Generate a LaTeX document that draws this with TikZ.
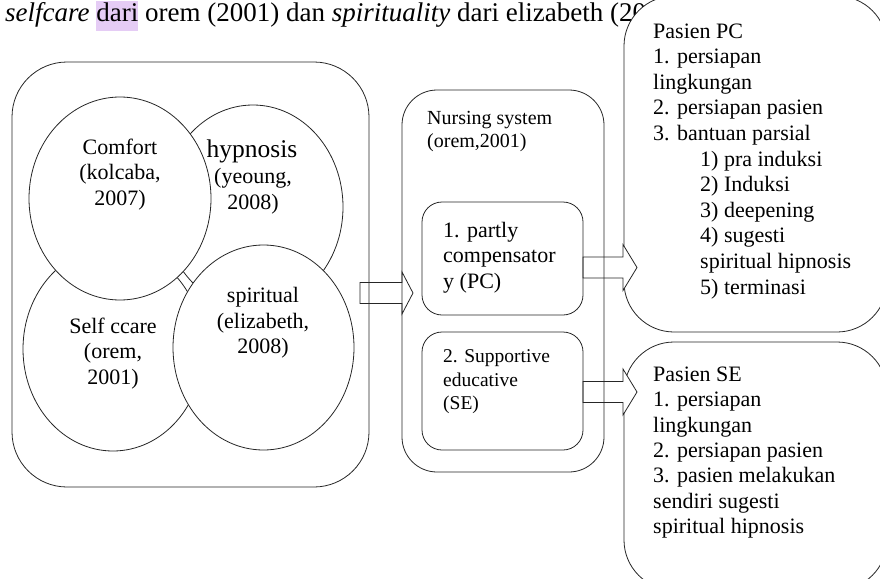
\documentclass[tikz,border=0pt]{standalone}
\usepackage{fontspec}
\setmainfont{Liberation Serif}
\usetikzlibrary{calc,shapes.geometric}

\definecolor{hlpurple}{RGB}{229,204,245}
% highlighted word in the sentence on top
\newcommand{\hlword}[1]{{\setlength{\fboxsep}{0pt}\colorbox{hlpurple}{\strut #1}}}
% hollow block arrow: start, tip, head length, head half height
\newcommand{\blockarrow}[4]{%
	\draw[bigarrow] let \p1=(#1), \p2=(#2) in
	(\x1,\y1+10.5pt) -- (\x2-#3pt,\y1+10.5pt) -- (\x2-#3pt,\y1+#4pt) -- (\x2,\y1)
	-- (\x2-#3pt,\y1-#4pt) -- (\x2-#3pt,\y1-10.5pt) -- (\x1,\y1-10.5pt) -- cycle;}

\begin{document}
\begin{tikzpicture}[x=1pt,y=-1pt,
		thinline/.style={draw=black!85,line width=0.8pt},
		roundbox/.style={thinline,rounded corners=#1,inner sep=0pt},
		bubble/.style={thinline,fill=white,ellipse,inner sep=0pt},
		bigarrow/.style={thinline,fill=white},
		txt/.style={inner sep=0pt,font=\fontsize{22}{25.5}\selectfont},
		smalltxt/.style={inner sep=0pt,font=\fontsize{19.5}{23.5}\selectfont}]
	\useasboundingbox (0,0) rectangle (880,578);
	
	% sentence on top, partly hidden by the first patient box
	\node[anchor=base west,inner sep=0pt,font=\fontsize{27}{30}\selectfont] (sentence) at (5,22)
	{\textit{selfcare} \hlword{dari} orem (2001) dan \textit{spirituality} dari elizabeth (20};
	
	% patient boxes first, the arrows lie on top of them
	\node[roundbox=50pt,fill=white,minimum width=263pt,minimum height=336pt] (pasienpc) at (755.5,164) {};
	\node[roundbox=50pt,fill=white,minimum width=263pt,minimum height=248pt] (pasiense) at (755.5,466) {};
	
	% block arrows
	\coordinate (a1s) at (360,293); \coordinate (a1t) at (413,293);
	\coordinate (a2s) at (583,267.5); \coordinate (a2t) at (637,267.5);
	\coordinate (a3s) at (583,392); \coordinate (a3t) at (637,392);
	\blockarrow{a1s}{a1t}{11}{21}
	\blockarrow{a2s}{a2t}{14}{23}
	\blockarrow{a3s}{a3t}{14}{23}
	
	% frames
	\node[roundbox=55pt,minimum width=357pt,minimum height=425pt] (model) at (190.5,274.5) {};
	\node[roundbox=35pt,minimum width=202pt,minimum height=382pt] (nursing) at (503,281) {};
	\node[roundbox=20pt,minimum width=161pt,minimum height=113pt] (pcbox) at (502.5,258.5) {};
	\node[roundbox=20pt,minimum width=161pt,minimum height=118pt] (sebox) at (502.5,391) {};
	
	% the four theories (order matters for the overlaps)
	\node[bubble,minimum width=180pt,minimum height=204pt] (selfcare) at (113,349) {};
	\node[bubble,minimum width=180pt,minimum height=204pt] (hypnosis) at (253,207) {};
	\node[bubble,minimum width=182pt,minimum height=203pt] (comfort) at (120,198.5) {};
	\node[bubble,minimum width=181pt,minimum height=205pt] (spiritual) at (263.5,347.5) {};
	
	\node[txt,align=center,anchor=north] (comforttxt) at (120,138.5) {Comfort\\(kolcaba,\\2007)};
	\node[inner sep=0pt,font=\fontsize{25.5}{27}\selectfont,anchor=base] (hyptitle) at (252,157) {hypnosis};
	\node[txt,align=center,anchor=north] (hyptxt) at (253,168.5) {(yeoung,\\2008)};
	\node[txt,align=center,anchor=north] (selfcaretxt) at (113,317.5) {Self ccare\\(orem,\\2001)};
	\node[txt,align=center,anchor=north] (spiritualtxt) at (263,287.5) {spiritual\\(elizabeth,\\2008)};
	
	% nursing system
	\node[inner sep=0pt,font=\fontsize{20}{23.5}\selectfont,align=left,anchor=north west] (nursingtxt) at (427,111) {Nursing system\\(orem,2001)};
	\node[txt,align=left,anchor=north west] (pctxt) at (443,222) {1. partly\\compensator\\y (PC)};
	\node[smalltxt,align=left,anchor=north west] (setxt) at (443,349.5) {2. Supportive\\educative\\(SE)};
	
	% patient lists, one line at a time
	\foreach \dx/\entry [count=\i from 0] in {0/Pasien PC, 0/1. persiapan, 0/lingkungan,
		0/2. persiapan pasien, 0/3. bantuan parsial, 47/1) pra induksi, 47/2) Induksi,
		47/3) deepening, 47/4) sugesti, 47/spiritual hipnosis, 47/5) terminasi}
	\node[txt,anchor=base west] (pc-\i) at ({653+\dx},{38+25.6*\i}) {\entry};
	
	\foreach \entry [count=\i from 0] in {Pasien SE, 1. persiapan, lingkungan,
		2. persiapan pasien, 3. pasien melakukan, sendiri sugesti, spiritual hipnosis}
	\node[txt,anchor=base west] (se-\i) at (653,{381.5+25.3*\i}) {\entry};
\end{tikzpicture}
\end{document}
